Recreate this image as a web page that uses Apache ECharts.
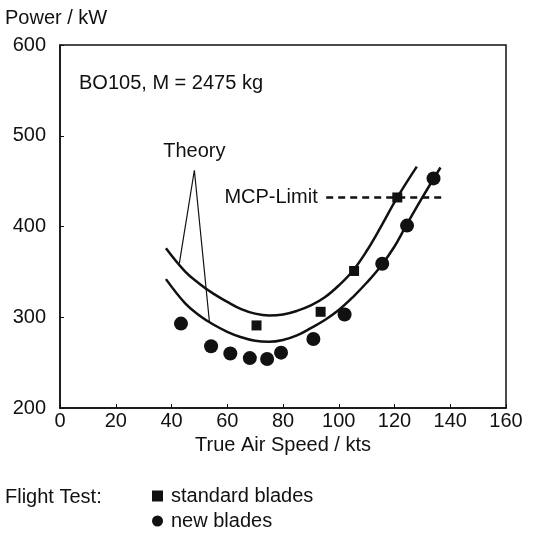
<!DOCTYPE html>
<html>
<head>
<meta charset="utf-8">
<script src="https://cdn.jsdelivr.net/npm/echarts@6/dist/echarts.min.js"></script>
<style>
  html, body { margin: 0; padding: 0; background: #fff; }
  #chart { width: 534px; height: 534px; }
</style>
</head>
<body>
<div id="chart"></div>
<script>
// Flight test: power required vs. true air speed, BO105
const standardSpeed = [70.5, 93.5, 105.5, 121];
const standardPower = [291, 306, 351, 432];

const newSpeed = [43.4, 54.2, 61.1, 68.1, 74.3, 79.3, 90.9, 102.1, 115.6, 124.5, 134];
const newPower = [293, 268, 260, 255, 254, 261, 276, 303, 359, 401, 453];

// Theory curves
const theoryUpperSpeed = [38, 45, 50, 55, 60, 65, 70, 75, 80, 85, 90, 95, 100, 105, 110, 115, 121, 128];
const theoryUpperPower = [376, 350, 337, 326, 317, 309, 304, 302, 303, 307, 313, 322, 335, 351, 373, 399, 432, 466];

const theoryLowerSpeed = [38, 45, 50, 55, 60, 65, 70, 75, 80, 85, 90, 95, 100, 105, 110, 115, 120, 124, 130, 136.5];
const theoryLowerPower = [342, 315, 302, 292, 284, 278, 274, 273, 275, 280, 288, 297, 308, 322, 338, 356, 378, 400, 432, 465];

// MCP limit
const mcpSpeed = [95.5, 137];
const mcpPower = [432, 432];

// "Theory" leader lines: upper curve end, apex, lower curve end
const leaderSpeed = [42.8, 48.2, 48.6, 53.6];
const leaderPower = [359, 462, 462, 295];

const xTicks = { min: 0, max: 160, interval: 20 };
const yTicks = { min: 200, max: 600, interval: 100 };

const zip = (xs, ys) => xs.map((x, i) => [x, ys[i]]);

const FONT = 'Liberation Sans';
const FS = 20;
const INK = '#111';
const textStyle = { fontSize: FS, color: INK, fontFamily: FONT };

const chart = echarts.init(document.getElementById('chart'), null, { renderer: 'canvas' });

chart.setOption({
  animation: false,
  backgroundColor: '#fff',
  textStyle: { fontFamily: FONT, color: INK },
  grid: {
    left: 60, right: 28, top: 45, bottom: 126,
    show: true, borderColor: INK, borderWidth: 1.5, backgroundColor: 'transparent'
  },
  xAxis: {
    type: 'value', min: xTicks.min, max: xTicks.max, interval: xTicks.interval,
    name: 'True Air Speed / kts', nameLocation: 'middle', nameGap: 26,
    nameTextStyle: textStyle,
    axisLine: { show: true, lineStyle: { color: INK, width: 1.5 } },
    axisTick: { show: true, inside: true, length: 4, lineStyle: { color: INK } },
    axisLabel: Object.assign({ margin: 3 }, textStyle),
    splitLine: { show: false }
  },
  yAxis: {
    type: 'value', min: yTicks.min, max: yTicks.max, interval: yTicks.interval,
    axisLine: { show: true, lineStyle: { color: INK, width: 1.5 } },
    axisTick: { show: true, inside: true, length: 4, lineStyle: { color: INK } },
    axisLabel: Object.assign({ margin: 14 }, textStyle),
    splitLine: { show: false }
  },
  legend: {
    left: 152, top: 486, orient: 'vertical', itemGap: 5, padding: 0,
    height: 60, itemWidth: 11, itemHeight: 11,
    textStyle: Object.assign({ padding: [0, 0, 0, 3] }, textStyle),
    data: [
      { name: 'standard blades', icon: 'rect', itemStyle: { color: INK } },
      { name: 'new blades', icon: 'circle', itemStyle: { color: INK } }
    ]
  },
  graphic: [
    { type: 'text', left: 5, top: 8, style: { text: 'Power / kW', font: FS + 'px "Liberation Sans"', fill: INK } },
    { type: 'text', left: 79, top: 73, style: { text: 'BO105, M = 2475 kg', font: FS + 'px "Liberation Sans"', fill: INK } },
    { type: 'text', left: 5, top: 487, style: { text: 'Flight Test:', font: FS + 'px "Liberation Sans"', fill: INK } }
  ],
  series: [
    {
      name: 'theory upper', type: 'line', smooth: 0.4, symbol: 'none',
      lineStyle: { color: INK, width: 2.5 }, silent: true,
      data: zip(theoryUpperSpeed, theoryUpperPower), z: 2
    },
    {
      name: 'theory lower', type: 'line', smooth: 0.4, symbol: 'none',
      lineStyle: { color: INK, width: 2.5 }, silent: true,
      data: zip(theoryLowerSpeed, theoryLowerPower), z: 2
    },
    {
      name: 'leader', type: 'line', symbol: 'circle', symbolSize: 1, showSymbol: true,
      itemStyle: { color: 'transparent', borderWidth: 0 },
      lineStyle: { color: INK, width: 1.2 }, silent: true,
      data: zip(leaderSpeed, leaderPower).map((p, i) => i === 1 ? {
        value: p,
        label: Object.assign({ show: true, position: 'top', distance: 8, formatter: 'Theory' }, textStyle)
      } : { value: p }),
      z: 2
    },
    {
      name: 'MCP', type: 'line', symbol: 'circle', symbolSize: 1, showSymbol: true,
      itemStyle: { color: 'transparent', borderWidth: 0 },
      lineStyle: { color: INK, width: 2.5, type: [7, 5] }, silent: true,
      data: zip(mcpSpeed, mcpPower).map((p, i) => i === 0 ? {
        value: p,
        label: Object.assign({ show: true, position: 'left', distance: 8, formatter: 'MCP-Limit' }, textStyle)
      } : { value: p }),
      z: 2
    },
    {
      name: 'standard blades', type: 'scatter', symbol: 'rect', symbolSize: 10,
      itemStyle: { color: INK, opacity: 1 },
      data: zip(standardSpeed, standardPower), z: 4
    },
    {
      name: 'new blades', type: 'scatter', symbol: 'circle', symbolSize: 14,
      itemStyle: { color: INK, opacity: 1 },
      data: zip(newSpeed, newPower), z: 4
    }
  ]
});
</script>
</body>
</html>
